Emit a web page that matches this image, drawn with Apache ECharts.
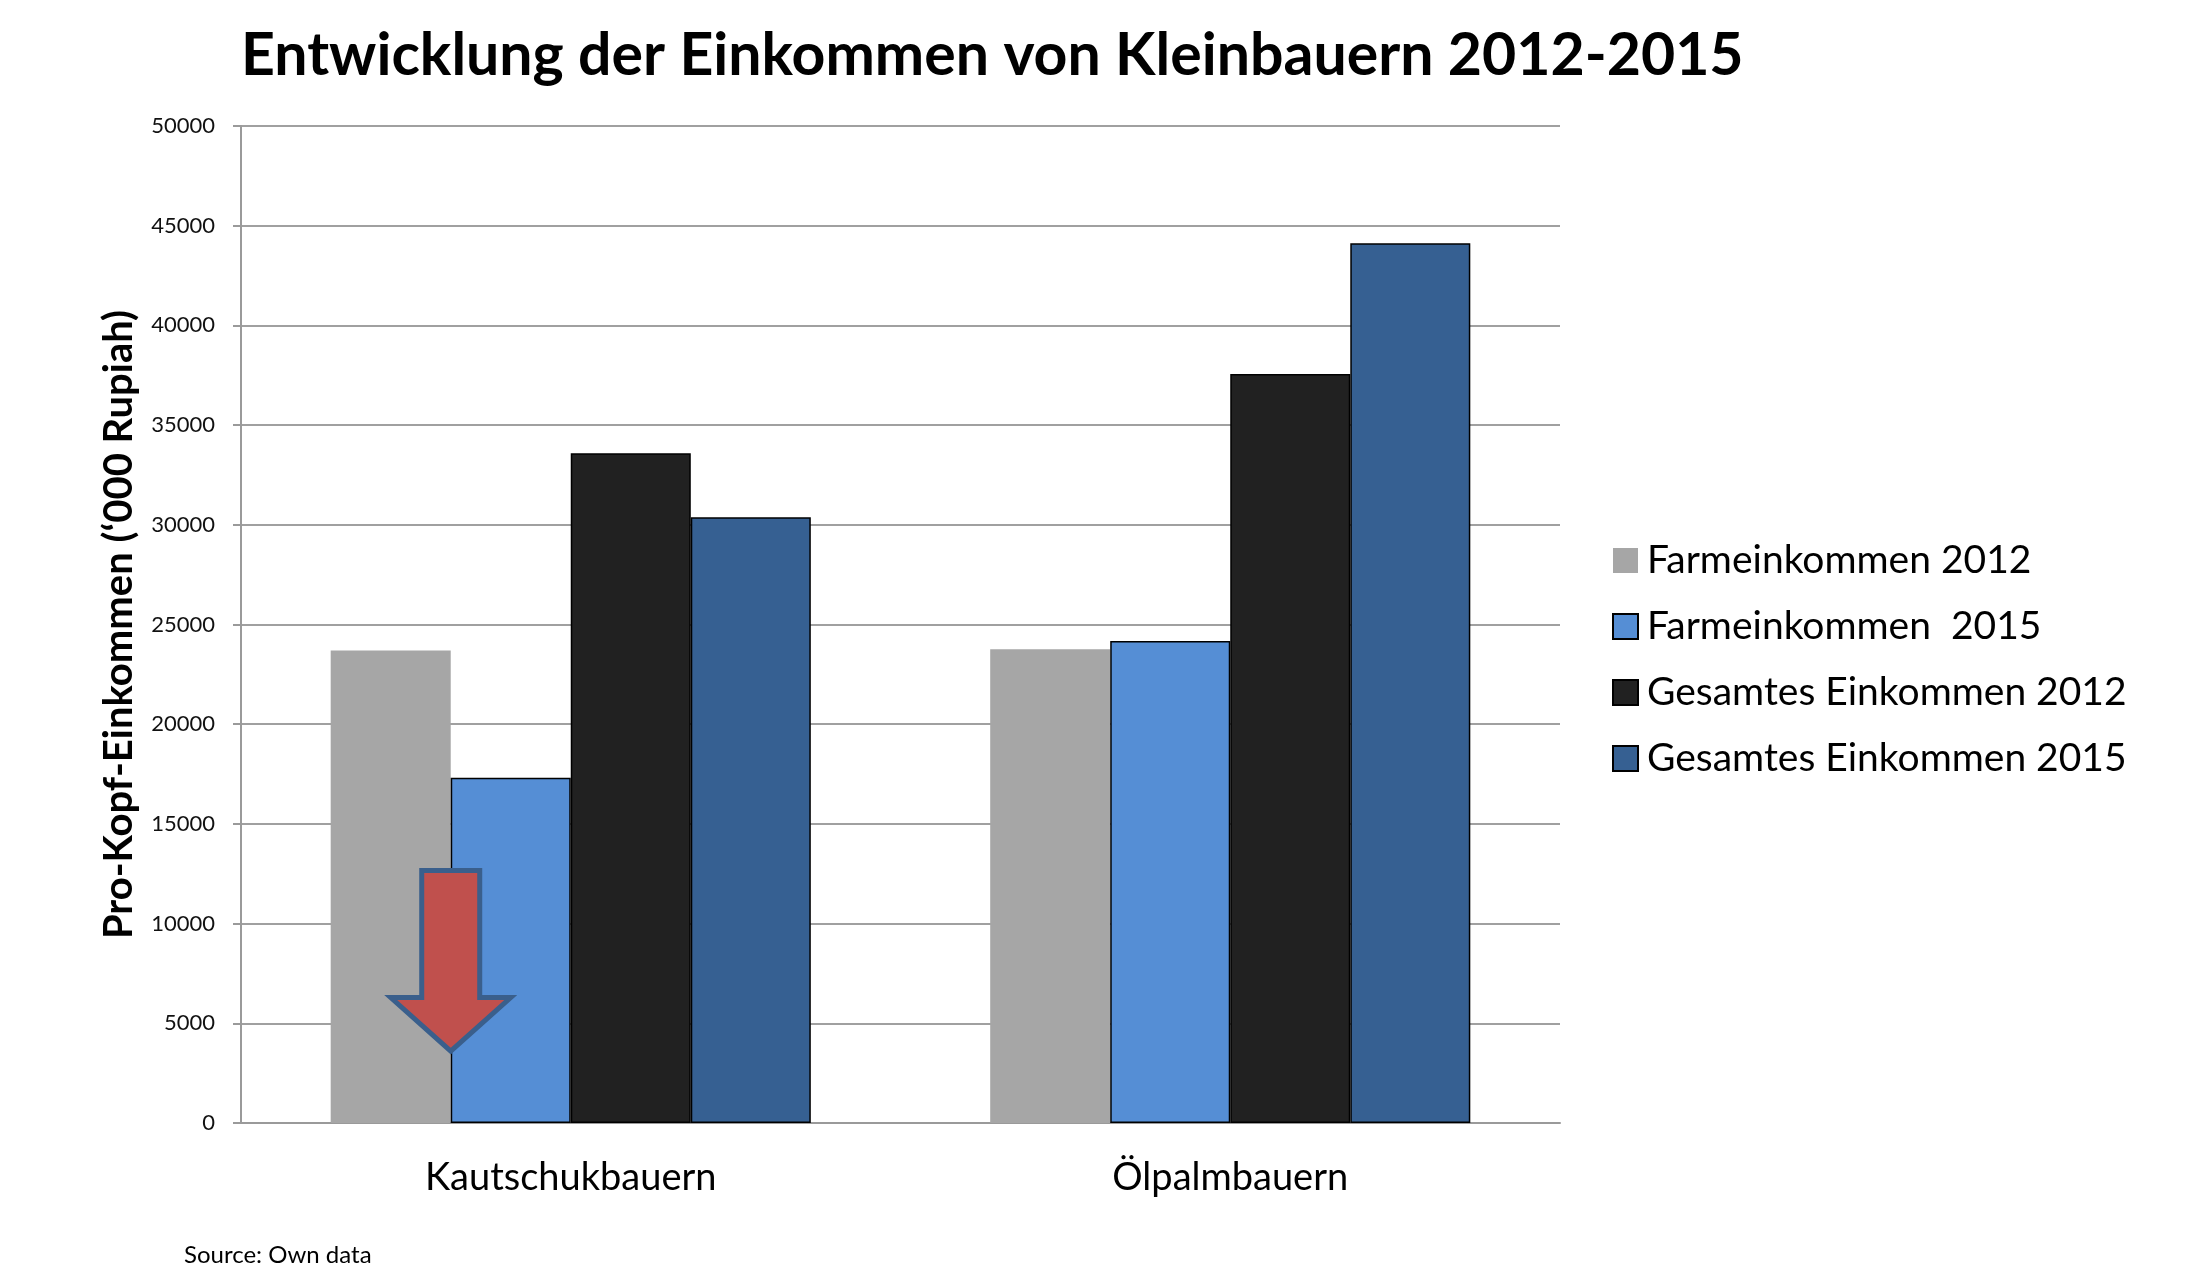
<!DOCTYPE html>
<html>
<head>
<meta charset="utf-8">
<title>Entwicklung der Einkommen von Kleinbauern 2012-2015</title>
<script src="https://cdn.jsdelivr.net/npm/echarts@6/dist/echarts.min.js"></script>
<style>
  html, body { margin: 0; padding: 0; background: #fff; }
  #chart { width: 2203px; height: 1273px; }
</style>
</head>
<body>
<div id="chart"></div>
<script>
// categories and values ('000 Rupiah)
const categories = ["Kautschukbauern", "Ölpalmbauern"];
const seriesNames = [
  "Farmeinkommen 2012",
  "Farmeinkommen  2015",
  "Gesamtes Einkommen 2012",
  "Gesamtes Einkommen 2015",
];
const farm2012 = [23690, 23760];
const farm2015 = [17320, 24170];
const total2012 = [33590, 37560];
const total2015 = [30380, 44120];

// red arrow annotation (value positions on the y axis)
const arrowTop = 12660;
const arrowHeadBase = 6290;
const arrowTip = 3600;

const FONT = "Lato";
const BAR_GAP_PCT = 27.2;

const chart = echarts.init(document.getElementById("chart"));

function barSeries(name, data, color, border) {
  return {
    name: name,
    type: "bar",
    data: data,
    barGap: "0%",
    barCategoryGap: BAR_GAP_PCT + "%",
    itemStyle: {
      color: color,
      borderColor: border ? "#000" : color,
      borderWidth: border ? 1.5 : 0,
    },
    emphasis: { disabled: true },
  };
}

chart.setOption({
  animation: false,
  title: {
    text: "Entwicklung der Einkommen von Kleinbauern 2012-2015",
    left: 236,
    top: 21,
    textStyle: {
      fontFamily: FONT,
      fontWeight: "bold",
      fontSize: 59,
      color: "#000",
    },
  },
  legend: {
    orient: "vertical",
    left: 1607,
    top: 536,
    itemWidth: 25,
    itemHeight: 25,
    itemGap: 27,
    icon: "rect",
    selectedMode: false,
    textStyle: {
      fontFamily: FONT,
      fontSize: 39,
      color: "#000",
      padding: [0, 0, 0, 4],
    },
    data: seriesNames,
  },
  grid: {
    left: 241,
    right: 643,
    top: 126,
    bottom: 150,
    containLabel: false,
  },
  xAxis: {
    type: "category",
    data: categories,
    axisLine: { lineStyle: { color: "#9a9a9a", width: 2 } },
    axisTick: { length: 14, lineStyle: { color: "#9a9a9a", width: 2 } },
    axisLabel: {
      fontFamily: FONT,
      fontSize: 38,
      color: "#000",
      margin: 36,
    },
  },
  yAxis: {
    type: "value",
    min: 0,
    max: 50000,
    interval: 5000,
    name: "Pro-Kopf-Einkommen (‘000 Rupiah)",
    nameLocation: "middle",
    nameGap: 102,
    nameTextStyle: {
      fontFamily: FONT,
      fontWeight: "bold",
      fontSize: 40,
      color: "#000",
    },
    axisLine: { show: true, lineStyle: { color: "#9a9a9a", width: 2 } },
    axisTick: { show: true, length: 8, lineStyle: { color: "#9a9a9a", width: 2 } },
    axisLabel: {
      fontFamily: FONT,
      fontSize: 22,
      color: "#111",
      margin: 26,
      formatter: (v) => String(v),
    },
    splitLine: { lineStyle: { color: "#a0a0a0", width: 2 } },
  },
  series: [
    barSeries(seriesNames[0], farm2012, "#a6a6a6", false),
    barSeries(seriesNames[1], farm2015, "#558ed5", true),
    barSeries(seriesNames[2], total2012, "#212121", true),
    barSeries(seriesNames[3], total2015, "#366092", true),
  ],
});

// arrow sits on the border between the first two bars of the first group
function drawArrow() {
  const c0 = chart.convertToPixel({ xAxisIndex: 0 }, categories[0]);
  const c1 = chart.convertToPixel({ xAxisIndex: 0 }, categories[1]);
  const barWidth = ((c1 - c0) * (1 - BAR_GAP_PCT / 100)) / 4;
  const cx = c0 - barWidth;
  const yTop = chart.convertToPixel({ yAxisIndex: 0 }, arrowTop);
  const yBase = chart.convertToPixel({ yAxisIndex: 0 }, arrowHeadBase);
  const yTip = chart.convertToPixel({ yAxisIndex: 0 }, arrowTip);
  const shaft = 29;
  const head = 60;
  chart.setOption({
    graphic: [
      {
        type: "polygon",
        z: 100,
        shape: {
          points: [
            [cx - shaft, yTop],
            [cx + shaft, yTop],
            [cx + shaft, yBase],
            [cx + head, yBase],
            [cx, yTip],
            [cx - head, yBase],
            [cx - shaft, yBase],
          ],
        },
        style: {
          fill: "#c0504d",
          stroke: "#3a5f8c",
          lineWidth: 5,
          lineJoin: "miter",
        },
      },
      {
        type: "text",
        left: 184,
        top: 1243,
        style: {
          text: "Source: Own data",
          font: "24px Lato",
          fill: "#000",
        },
      },
    ],
  });
}
drawArrow();
</script>
</body>
</html>
